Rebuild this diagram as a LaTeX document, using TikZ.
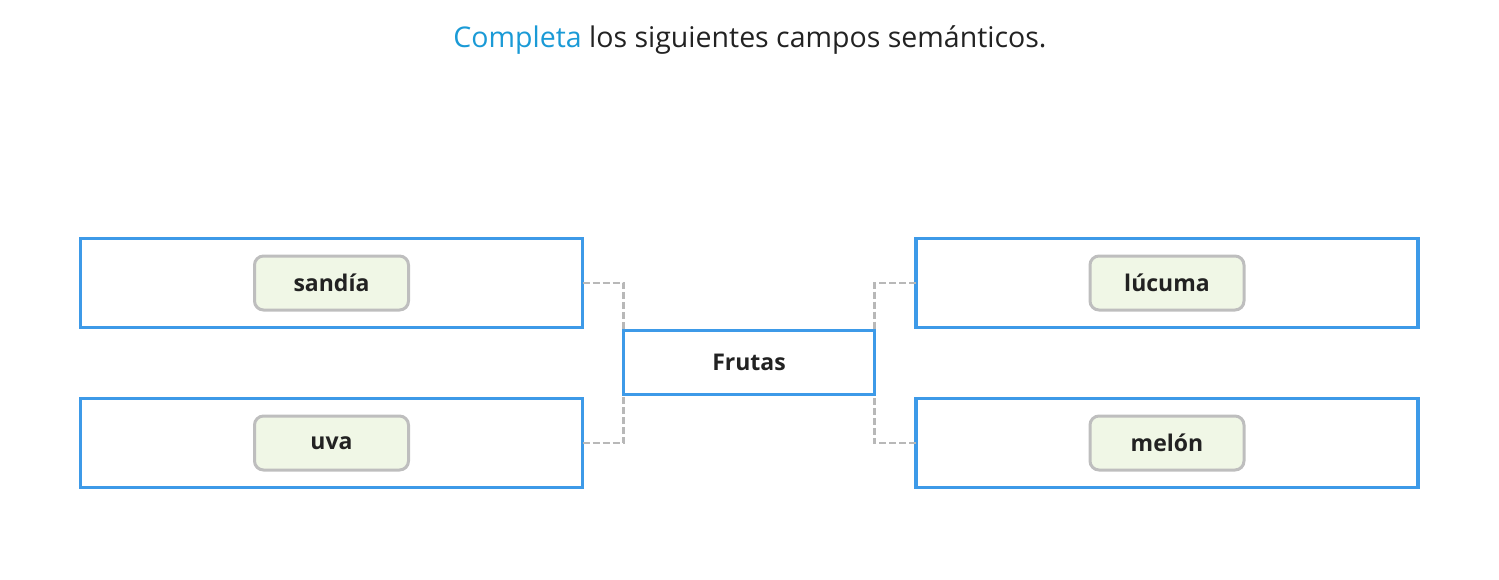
\documentclass[tikz,border=0pt]{standalone}
\usepackage{fontspec}
\setmainfont{Open Sans}
\usepackage{xcolor}
\usetikzlibrary{positioning}
\definecolor{boxblue}{RGB}{61,154,232}
\definecolor{titleblue}{RGB}{26,154,214}
\definecolor{chipgray}{RGB}{190,190,190}
\definecolor{chipfill}{RGB}{240,247,230}
\definecolor{dashgray}{RGB}{184,184,184}
\definecolor{ink}{RGB}{34,34,34}

\begin{document}
\begin{tikzpicture}[x=1pt,y=-1pt,
	field/.style={draw=boxblue,line width=3.5pt,minimum width=502pt,minimum height=89pt,outer sep=0pt,inner sep=0pt},
	chip/.style={draw=chipgray,fill=chipfill,line width=3pt,rounded corners=9pt,minimum width=154pt,minimum height=54pt,font=\fontsize{23}{27}\selectfont\bfseries,text=ink},
	link/.style={draw=dashgray,line width=2.5pt,dash pattern=on 7pt off 3pt}]
	\useasboundingbox (0,0) rectangle (1499,579);
	
	\node [font=\fontsize{28.5}{34}\selectfont,text=ink] (title) at (750,40) {\textcolor{titleblue}{Completa} los siguientes campos semánticos.};
	
	\node [field] (lt) at (331.5,283) {};
	\node [field] (lb) at (331.5,443) {};
	\node [field] (rt) at (1167,283) {};
	\node [field] (rb) at (1167,443) {};
	
	\node [draw=boxblue,line width=3.5pt,minimum width=251pt,minimum height=64pt,outer sep=0pt,font=\fontsize{23}{27}\selectfont\bfseries,text=ink] (fr) at (749,362.5) {Frutas};
	
	\node [chip] (sandia) at (lt) {sandía};
	\node [chip] (uva) at (lb) {uva};
	\node [chip] (lucuma) at (rt) {lúcuma};
	\node [chip] (melon) at (rb) {melón};
	
	\draw[link] (lt.east) -| (fr.north west);
	\draw[link] (lb.east) -| (fr.south west);
	\draw[link] (rt.west) -| (fr.north east);
	\draw[link] (rb.west) -| (fr.south east);
	
\end{tikzpicture}
\end{document}
